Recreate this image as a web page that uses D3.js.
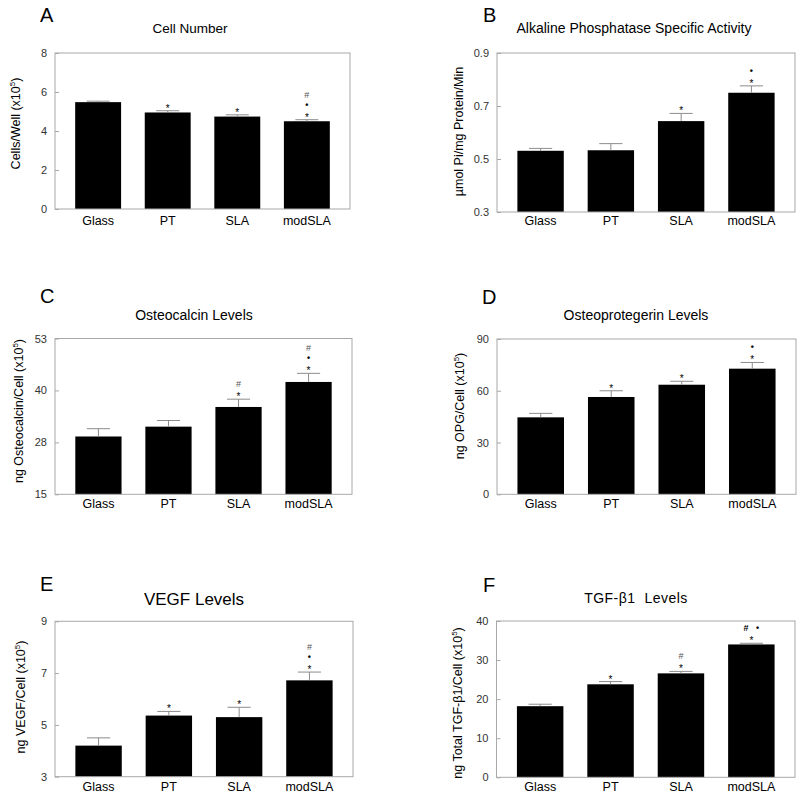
<!DOCTYPE html>
<html>
<head>
<meta charset="utf-8">
<script src="https://cdn.jsdelivr.net/npm/d3@7"></script>
<style>
  html, body { margin: 0; padding: 0; background: #fff; }
  svg { display: block; font-family: Arial, "Liberation Sans", sans-serif; }
</style>
</head>
<body>
<svg id="chart" width="800" height="801"></svg>
<script>
// ---------- DATA ----------
const categories = ["Glass", "PT", "SLA", "modSLA"];

// A: Cell Number
const cellNumber    = [5.48, 4.95, 4.74, 4.50];
const cellNumberErr = [0.05, 0.09, 0.09, 0.08];
const cellNumberTicks = [0, 2, 4, 6, 8];
const cellNumberTickLabels = ["0", "2", "4", "6", "8"];
const cellNumberMarks = [[], ["*"], ["*"], ["*", "•", "#"]];

// B: Alkaline Phosphatase Specific Activity
const alp    = [0.531, 0.533, 0.643, 0.750];
const alpErr = [0.009, 0.025, 0.029, 0.026];
const alpTicks = [0.3, 0.5, 0.7, 0.9];
const alpTickLabels = ["0.3", "0.5", "0.7", "0.9"];
const alpMarks = [[], [], ["*"], ["*", "•"]];

// C: Osteocalcin Levels
const osteocalcin    = [29.1, 31.5, 36.3, 42.4];
const osteocalcinErr = [1.9, 1.5, 1.9, 2.1];
const osteocalcinTicks = [15, 27.67, 40.33, 53];
const osteocalcinTickLabels = ["15", "28", "40", "53"];
const osteocalcinMarks = [[], [], ["*", "#"], ["*", "•", "#"]];

// D: Osteoprotegerin Levels
const opg    = [44.6, 56.4, 63.5, 72.8];
const opgErr = [2.3, 3.6, 2.0, 3.6];
const opgTicks = [0, 30, 60, 90];
const opgTickLabels = ["0", "30", "60", "90"];
const opgMarks = [[], ["*"], ["*"], ["*", "•"]];

// E: VEGF Levels
const vegf    = [4.20, 5.36, 5.30, 6.72];
const vegfErr = [0.30, 0.16, 0.38, 0.32];
const vegfTicks = [3, 5, 7, 9];
const vegfTickLabels = ["3", "5", "7", "9"];
const vegfMarks = [[], ["*"], ["*"], ["*", "•", "#"]];

// F: TGF-β1 Levels
const tgf    = [18.2, 23.8, 26.6, 34.0];
const tgfErr = [0.5, 0.7, 0.5, 0.3];
const tgfTicks = [0, 10, 20, 30, 40];
const tgfTickLabels = ["0", "10", "20", "30", "40"];
const tgfMarks = [[], ["*"], ["*", "#"], ["*", "#   •"]];

// ---------- LAYOUT ----------
const panels = [
  { letter: "A", title: "Cell Number", titleSize: 13.5, titleSpacing: 0, ylabel: "Cells/Well (x10", sup: true,
    values: cellNumber, errs: cellNumberErr, ticks: cellNumberTicks, tickLabels: cellNumberTickLabels, marks: cellNumberMarks,
    x0: 55, x1: 350, y0: 53, y1: 209, letterX: 40, letterY: 22, titleX: 190, titleY: 33,
    ylx: 20, yly: 123.5, catY: 225 },
  { letter: "B", title: "Alkaline Phosphatase Specific Activity", titleSize: 14, titleSpacing: 0, ylabel: "µmol Pi/mg Protein/Min", sup: false,
    values: alp, errs: alpErr, ticks: alpTicks, tickLabels: alpTickLabels, marks: alpMarks,
    x0: 497, x1: 795, y0: 53, y1: 212, letterX: 483, letterY: 22, titleX: 634, titleY: 33,
    ylx: 463, yly: 131.5, catY: 225 },
  { letter: "C", title: "Osteocalcin Levels", titleSize: 14, titleSpacing: 0, ylabel: "ng Osteocalcin/Cell (x10", sup: true,
    values: osteocalcin, errs: osteocalcinErr, ticks: osteocalcinTicks, tickLabels: osteocalcinTickLabels, marks: osteocalcinMarks,
    x0: 55, x1: 352, y0: 338.5, y1: 494.3, letterX: 40, letterY: 303, titleX: 194, titleY: 320,
    ylx: 23, yly: 411, catY: 508 },
  { letter: "D", title: "Osteoprotegerin Levels", titleSize: 14, titleSpacing: 0, ylabel: "ng OPG/Cell (x10", sup: true,
    values: opg, errs: opgErr, ticks: opgTicks, tickLabels: opgTickLabels, marks: opgMarks,
    x0: 497, x1: 796, y0: 339, y1: 494.3, letterX: 482, letterY: 304, titleX: 636, titleY: 320,
    ylx: 464, yly: 406, catY: 508 },
  { letter: "E", title: "VEGF Levels", titleSize: 17, titleSpacing: 0, ylabel: "ng VEGF/Cell (x10", sup: true,
    values: vegf, errs: vegfErr, ticks: vegfTicks, tickLabels: vegfTickLabels, marks: vegfMarks,
    x0: 55, x1: 353, y0: 621.3, y1: 776.7, letterX: 40, letterY: 591, titleX: 194, titleY: 605,
    ylx: 24.5, yly: 697, catY: 791 },
  { letter: "F", title: "TGF-β1  Levels", titleSize: 14, titleSpacing: 0.5, ylabel: "ng Total TGF-β1/Cell (x10", sup: true,
    values: tgf, errs: tgfErr, ticks: tgfTicks, tickLabels: tgfTickLabels, marks: tgfMarks,
    x0: 496.5, x1: 795, y0: 621, y1: 777.3, letterX: 483, letterY: 592, titleX: 636, titleY: 603,
    ylx: 462, yly: 703, catY: 791 }
];

const svg = d3.select("#chart");
const frameColor = "#a8a8a8";
const errColor = "#8c8c8c";

panels.forEach(p => {
  const g = svg.append("g");
  const x = d3.scaleBand().domain(categories).range([p.x0, p.x1])
    .paddingInner(0.34).paddingOuter(0.29);
  const y = d3.scaleLinear().domain([p.ticks[0], p.ticks[p.ticks.length - 1]]).range([p.y1, p.y0]);

  // panel letter
  g.append("text").attr("x", p.letterX).attr("y", p.letterY)
    .attr("font-size", 20).attr("fill", "#000").text(p.letter);

  // title
  g.append("text").attr("x", p.titleX).attr("y", p.titleY)
    .attr("text-anchor", "middle").attr("font-size", p.titleSize)
    .attr("letter-spacing", p.titleSpacing).attr("fill", "#000")
    .style("white-space", "pre").text(p.title);

  // bars
  g.selectAll("rect.bar").data(p.values).enter().append("rect")
    .attr("class", "bar")
    .attr("x", (d, i) => x(categories[i]))
    .attr("width", x.bandwidth())
    .attr("y", d => y(d))
    .attr("height", d => y(p.ticks[0]) - y(d))
    .attr("fill", "#000");

  // error bars (upper only)
  const capW = x.bandwidth() * 0.5;
  p.values.forEach((v, i) => {
    const cx = x(categories[i]) + x.bandwidth() / 2;
    const top = y(v + p.errs[i]);
    g.append("line").attr("x1", cx).attr("x2", cx).attr("y1", y(v)).attr("y2", top)
      .attr("stroke", errColor).attr("stroke-width", 1);
    g.append("line").attr("x1", cx - capW / 2).attr("x2", cx + capW / 2).attr("y1", top).attr("y2", top)
      .attr("stroke", errColor).attr("stroke-width", 1);
    // significance marks
    p.marks[i].forEach((m, k) => {
      const isStar = m === "*";
      const yy = top - 5 - k * 10;
      g.append("text").attr("x", cx).attr("y", yy + (isStar ? 6 : 3))
        .attr("text-anchor", "middle")
        .attr("font-size", isStar ? 10 : 9)
        .attr("font-weight", m.indexOf("•") >= 0 ? "bold" : "normal")
        .attr("fill", m.indexOf("#") >= 0 && m.indexOf("•") < 0 ? "#555" : "#000")
        .style("white-space", "pre")
        .text(m);
    });
  });

  // frame
  g.append("rect").attr("x", p.x0).attr("y", p.y0)
    .attr("width", p.x1 - p.x0).attr("height", p.y1 - p.y0)
    .attr("fill", "none").attr("stroke", frameColor).attr("stroke-width", 1);

  // y axis (inward ticks)
  const yAxis = d3.axisLeft(y).tickValues(p.ticks)
    .tickSize(0).tickPadding(8)
    .tickFormat((d, i) => p.tickLabels[i]);
  const ya = g.append("g").attr("transform", `translate(${p.x0},0)`).call(yAxis);
  ya.select(".domain").remove();
  ya.selectAll(".tick text").attr("font-size", 11).attr("fill", "#333")
    .attr("font-family", "Arial, 'Liberation Sans', sans-serif");
  ya.selectAll(".tick").append("line").attr("x1", 0).attr("x2", 4)
    .attr("stroke", frameColor);

  // x axis labels
  const xAxis = d3.axisBottom(x).tickSize(0).tickPadding(0);
  const xa = g.append("g").attr("transform", `translate(0,${p.catY})`).call(xAxis);
  xa.select(".domain").remove();
  xa.selectAll(".tick text").attr("font-size", 12.5).attr("fill", "#000").attr("dy", 0)
    .attr("font-family", "Arial, 'Liberation Sans', sans-serif");

  // y label
  const yl = g.append("text")
    .attr("transform", `translate(${p.ylx},${p.yly}) rotate(-90)`)
    .attr("text-anchor", "middle").attr("font-size", 12.5).attr("fill", "#000");
  yl.append("tspan").text(p.ylabel);
  if (p.sup) {
    yl.append("tspan").attr("font-size", 8).attr("dy", -5).text("5");
    yl.append("tspan").attr("dy", 5).text(")");
  }
});
</script>
</body>
</html>
